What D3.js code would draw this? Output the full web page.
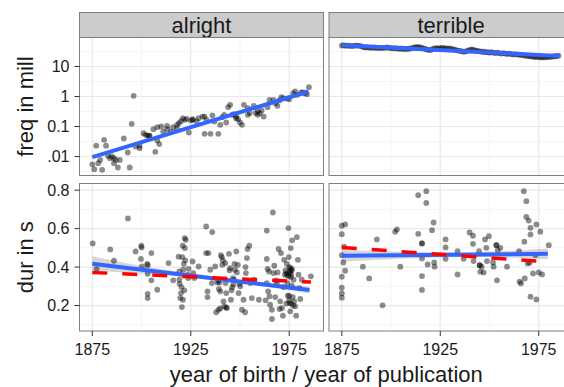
<!DOCTYPE html>
<html><head><meta charset="utf-8">
<script src="https://cdn.jsdelivr.net/npm/d3@7"></script>
<style>
body{margin:0;background:#fff}
svg{display:block}
text{font-family:"Liberation Sans", Arial, Helvetica, sans-serif; fill:#1a1a1a}
</style>
</head><body>
<svg id="chart" width="564" height="387"></svg>
<script>
// ---------------- data ----------------
const facets = ["alright", "terrible"];
const rowTitles = ["freq in mill", "dur in s"];
const xTitle = "year of birth / year of publication";
const xTicks = [1875, 1925, 1975];
const xTickLabels = ["1875", "1925", "1975"];
const xMinor = [1900, 1950];
const freqTicks = [10, 1, 0.1, 0.01];
const freqTickLabels = ["10", "1", "0.1", ".01"];
const freqMinor = [31.62, 3.162, 0.3162, 0.03162, 0.003162];
const durTicks = [0.2, 0.4, 0.6, 0.8];
const durTickLabels = ["0.2", "0.4", "0.6", "0.8"];
const durMinor = [0.1, 0.3, 0.5, 0.7];

const alrightFreq = [
[1875,0.0055],[1876,0.0038],[1877,0.023],[1878,0.006],[1879,0.0077],[1880,0.0036],[1881,0.036],
[1882,0.023],[1883,0.0105],[1884,0.0088],[1885,0.01],[1886,0.0088],[1886,0.006],[1887,0.0077],
[1888,0.0043],[1889,0.0077],[1891,0.04],[1893,0.0136],[1894,0.0043],[1895,0.123],[1896,1.05],
[1897,0.0215],[1899,0.019],[1899,0.023],[1901,0.06],[1902,0.053],[1903,0.05],[1904,0.05],[1904,0.049],
[1906,0.081],[1907,0.0143],[1908,0.034],[1908,0.095],[1909,0.026],[1910,0.1],[1911,0.068],[1913,0.081],
[1913,0.105],[1915,0.068],[1916,0.095],[1918,0.114],[1918,0.088],[1919,0.13],[1920,0.15],[1921,0.19],
[1922,0.167],[1923,0.18],[1924,0.063],[1925,0.158],[1926,0.167],[1926,0.175],[1928,0.147],[1929,0.19],
[1931,0.215],[1932,0.057],[1932,0.215],[1933,0.167],[1935,0.057],[1936,0.233],[1937,0.147],[1939,0.057],
[1940,0.114],[1941,0.205],[1942,0.245],[1943,0.136],[1944,0.44],[1945,0.53],[1946,0.245],[1947,0.258],
[1948,0.215],[1948,0.19],[1949,0.175],[1950,0.136],[1951,0.114],[1952,0.53],[1954,0.41],[1954,0.245],
[1955,0.28],[1957,0.49],[1958,0.28],[1959,0.32],[1959,0.245],[1960,0.28],[1961,0.34],[1962,0.215],
[1964,0.44],[1965,0.77],[1967,0.77],[1968,0.6],[1969,0.49],[1970,0.74],[1971,0.95],[1972,0.88],
[1974,0.86],[1975,0.81],[1977,1.29],[1978,1.47],[1979,1.14],[1981,1.36],[1982,1.36],[1983,1.29],
[1984,1.2],[1985,2.05]
];

const terribleFreqYears = d3.range(1875, 1986);
const terribleFreqValues = [
50,51,49,50,49,48,49,50,50,49,
47,44,43,44,42,43,42,43,41,42,
41,42,42,43,42,41,40,41,40,39,
40,38,39,38,39,40,42,43,45,44,
43,41,39,37,36,35,38,40,41,40,
41,42,41,40,39,40,38,37,35,34,
33,32,31,32,34,36,37,36,34,33,
32,31,31,30,30,29,30,29,28,29,
28,27,28,27,26,27,26,25,26,25,
25,24,24,23,23,22,22,21,21,20.5,
21,20,20.5,20,21,20.5,21,21.5,22,22,
23
];

const alrightDur = [
[1875.2,0.523],[1877.2,0.391],[1884.1,0.492],[1886,0.433],[1893.1,0.653],[1897,0.481],[1899.7,0.442],
[1899.9,0.511],[1900,0.502],[1900.2,0.403],[1902.9,0.416],[1903.1,0.41],[1903.1,0.365],[1903.1,0.261],
[1903.1,0.239],[1905,0.473],[1905,0.331],[1908,0.282],[1913.7,0.421],[1916.1,0.331],[1918.8,0.454],
[1919.2,0.377],[1919.2,0.334],[1919.3,0.313],[1919.7,0.239],[1920,0.265],[1920.3,0.296],[1920.5,0.192],
[1920.7,0.452],[1920.9,0.511],[1921,0.23],[1921.2,0.386],[1921.5,0.417],[1921.7,0.279],[1921.9,0.551],
[1922,0.499],[1922.2,0.435],[1922.5,0.542],[1923.4,0.36],[1923.7,0.343],[1923.9,0.391],[1925.9,0.429],
[1926.3,0.369],[1926.8,0.343],[1929,0.403],
[1932.8,0.611],[1935.9,0.582],[1932.8,0.473],[1934,0.473],[1933.5,0.274],[1933.5,0.244],[1934.9,0.386],
[1935.7,0.317],[1937.4,0.403],[1937.9,0.165],[1939.1,0.178],[1939.3,0.286],[1939.6,0.32],[1940,0.274],
[1940.3,0.462],[1940.8,0.452],[1941,0.412],[1941.3,0.435],[1941.6,0.222],[1942,0.196],[1942.5,0.421],
[1942.7,0.317],[1943,0.265],[1943.3,0.187],[1944.4,0.469],[1944.7,0.383],[1945,0.395],[1945.4,0.23],
[1945.7,0.279],[1946,0.296],[1946.4,0.343],[1946.7,0.31],[1947.2,0.417],[1947.4,0.386],[1948.1,0.481],
[1948.4,0.372],[1948.9,0.412],[1949.3,0.265],[1949.8,0.313],[1950.1,0.3],[1951,0.178],[1951.8,0.23],
[1952.6,0.165],[1952.8,0.4],[1953,0.369],[1953.5,0.447],[1953.8,0.494],[1954.7,0.511],[1955.2,0.317],
[1956,0.239],[1957.2,0.334],[1959.6,0.23],[1963,0.227],[1963.6,0.59],[1963.6,0.442],[1963.6,0.317],
[1964,0.39],[1964.3,0.274],[1964.7,0.377],[1965,0.248],[1965.3,0.204],[1966.2,0.178],[1966.2,0.13],
[1966.7,0.684],[1967,0.369],[1967.4,0.407],[1967.9,0.244],[1968.4,0.331],[1968.7,0.317],[1969.1,0.372],
[1969.6,0.494],[1970.1,0.182],[1970.4,0.222],[1970.8,0.473],[1971.3,0.187],[1971.8,0.147],[1972.1,0.296],
[1972.4,0.438],[1972.8,0.36],[1973.1,0.383],[1973.5,0.369],[1973.8,0.417],[1974.1,0.317],[1974.3,0.251],
[1974.6,0.603],[1974.6,0.352],[1974.8,0.452],[1975.1,0.213],[1975.5,0.395],[1975.5,0.17],[1975.8,0.499],
[1975.8,0.348],[1976.2,0.383],[1976.3,0.303],[1976.5,0.539],[1976.8,0.244],[1977.2,0.334],[1977.5,0.222],
[1978,0.196],[1978.5,0.147],[1978.9,0.556],[1979.4,0.438],[1979.7,0.36],[1980.2,0.291],[1980.6,0.234],
[1981.4,0.334],[1986,0.352],
[1938.5,0.32],[1940,0.185],[1943,0.19],[1975.5,0.38],[1975,0.25],[1976,0.21],[1977,0.2],[1976,0.36],
[1975,0.4],[1974,0.36],[1939,0.33],[1947,0.335],[1973.5,0.21],[1975.2,0.37],[1976.4,0.39],[1974.9,0.225]
];

const terribleDur = [
[1875,0.615],[1876.7,0.622],[1875,0.571],[1875,0.462],[1875.8,0.424],[1876.7,0.381],[1875,0.35],
[1875,0.293],[1875,0.263],[1875,0.241],[1876.2,0.506],[1885.7,0.402],[1888.9,0.341],[1892.8,0.544],
[1895.7,0.201],[1902.1,0.584],[1903,0.596],[1904.7,0.402],[1913.8,0.774],[1917.9,0.795],[1917.9,0.734],
[1913.8,0.573],[1915.7,0.523],[1915.7,0.523],[1915.7,0.445],[1915.7,0.353],[1915.7,0.281],[1918.6,0.414],
[1920.8,0.592],[1921.6,0.632],[1921.9,0.424],[1922.1,0.402],[1927.7,0.544],[1927.7,0.502],[1927.7,0.443],
[1933.8,0.483],[1933.8,0.362],[1936.9,0.443],[1939.9,0.58],[1941.6,0.563],[1941.6,0.521],[1941.9,0.431],
[1944.7,0.483],[1945,0.41],[1945,0.41],[1945.3,0.376],[1946,0.402],[1947,0.372],[1947.7,0.544],[1948.4,0.5],
[1948.7,0.431],[1949.7,0.561],[1951.8,0.424],[1952.1,0.402],[1953.5,0.514],[1953.5,0.514],[1953.8,0.331],
[1954.2,0.488],[1955.5,0.5],[1958.9,0.402],[1965,0.483],[1965.3,0.324],[1966,0.315],[1967.4,0.795],
[1967.7,0.532],[1968.7,0.743],[1968.7,0.661],[1969.9,0.642],[1970.8,0.604],[1970.8,0.57],[1970.8,0.246],
[1972.1,0.367],[1970.4,0.424],[1969.4,0.419],[1973.8,0.232],[1973.8,0.622],[1973.3,0.462],[1975,0.372],
[1975.8,0.584],[1976.7,0.362],[1980.1,0.514],[1967.9,0.341]
];

// fitted lines and bands
const fitAlrightFreq = [[1875, 0.0095], [1984.8, 1.47]];
const fitTerribleFreq = [[1875, 51], [1985.7, 22.5]];
const fitAlrightDur = [[1875, 0.417], [1985.3, 0.281]];
const fitTerribleDur = [[1875, 0.459], [1979.6, 0.469]];
const altAlrightDur = [[1875, 0.372], [1986, 0.322]];
const altTerribleDur = [[1875, 0.502], [1974, 0.431]];
const bandAlrightDur = [[1875,0.381,0.456],[1900,0.366,0.406],[1930,0.338,0.360],[1960,0.301,0.323],[1985.3,0.263,0.299]];
const bandTerribleDur = [[1875,0.428,0.490],[1900,0.441,0.481],[1930,0.451,0.477],[1955,0.451,0.483],[1979.6,0.441,0.497]];

// ---------------- layout ----------------
const svg = d3.select("#chart");
const colX = [79.5, 329];
const panelW = 244;
const stripY = 12.5, stripH = 25;
const rowY = [37.5, 183.5];
const rowH = [138, 147.5];

const x = d3.scaleLinear().domain([1868.5, 1992.4]).range([0, panelW]);
const yFreq = d3.scaleLog().domain([0.00233, 92.6]).range([rowH[0], 0]);
const yDur = d3.scaleLinear().domain([0.0675, 0.8348]).range([rowH[1], 0]);
const yScales = [yFreq, yDur];

const panelData = {
  "0-0": {pts: alrightFreq, fit: fitAlrightFreq},
  "1-0": {pts: terribleFreqYears.map((y, i) => [y, terribleFreqValues[i]]), fit: fitTerribleFreq},
  "0-1": {pts: alrightDur, fit: fitAlrightDur, alt: altAlrightDur, band: bandAlrightDur},
  "1-1": {pts: terribleDur, fit: fitTerribleDur, alt: altTerribleDur, band: bandTerribleDur}
};
const majorY = [freqTicks, durTicks];
const minorY = [freqMinor, durMinor];

// strips
facets.forEach((f, c) => {
  svg.append("rect").attr("x", colX[c]).attr("y", stripY).attr("width", panelW).attr("height", stripH)
    .attr("fill", "#CCCCCC").attr("stroke", "#7F7F7F").attr("stroke-width", 1);
  svg.append("text").attr("x", colX[c] + panelW / 2).attr("y", stripY + 20.5)
    .attr("text-anchor", "middle").attr("font-size", 22).text(f);
});

for (let r = 0; r < 2; r++) {
  for (let c = 0; c < 2; c++) {
    const y = yScales[r];
    const g = svg.append("g").attr("transform", `translate(${colX[c]},${rowY[r]})`);
    g.append("rect").attr("width", panelW).attr("height", rowH[r]).attr("fill", "#fff");
    // minor grid
    g.selectAll(".mx").data(xMinor).join("line")
      .attr("x1", d => x(d)).attr("x2", d => x(d)).attr("y1", 0).attr("y2", rowH[r])
      .attr("stroke", "#F5F5F5").attr("stroke-width", 1);
    g.selectAll(".my").data(minorY[r]).join("line")
      .attr("y1", d => y(d)).attr("y2", d => y(d)).attr("x1", 0).attr("x2", panelW)
      .attr("stroke", "#F5F5F5").attr("stroke-width", 1);
    // major grid
    g.selectAll(".Mx").data(xTicks).join("line")
      .attr("x1", d => x(d)).attr("x2", d => x(d)).attr("y1", 0).attr("y2", rowH[r])
      .attr("stroke", "#E8E8E8").attr("stroke-width", 1.2);
    g.selectAll(".My").data(majorY[r]).join("line")
      .attr("y1", d => y(d)).attr("y2", d => y(d)).attr("x1", 0).attr("x2", panelW)
      .attr("stroke", "#E8E8E8").attr("stroke-width", 1.2);

    const pd = panelData[c + "-" + r];
    if (pd.band) {
      g.append("path").datum(pd.band)
        .attr("d", d3.area().curve(d3.curveNatural).x(d => x(d[0])).y0(d => y(d[1])).y1(d => y(d[2])))
        .attr("fill", "#999999").attr("fill-opacity", 0.4);
    }
    g.selectAll(".pt").data(pd.pts).join("circle")
      .attr("cx", d => x(d[0])).attr("cy", d => y(d[1])).attr("r", 2.9)
      .attr("fill", "#000").attr("fill-opacity", 0.45);
    const line = d3.line().x(d => x(d[0])).y(d => y(d[1]));
    g.append("path").datum(pd.fit).attr("d", line)
      .attr("fill", "none").attr("stroke", "#3366FF").attr("stroke-width", 4);
    if (pd.alt) {
      g.append("path").datum(pd.alt).attr("d", line)
        .attr("fill", "none").attr("stroke", "#FF0000").attr("stroke-width", 3.5)
        .attr("stroke-dasharray", "15,15");
    }
    g.append("rect").attr("width", panelW).attr("height", rowH[r])
      .attr("fill", "none").attr("stroke", "#7F7F7F").attr("stroke-width", 1);

    // y axis (left column only)
    if (c === 0) {
      const labels = r === 0 ? freqTickLabels : durTickLabels;
      const ticks = majorY[r];
      ticks.forEach((t, i) => {
        g.append("line").attr("x1", -5).attr("x2", 0).attr("y1", y(t)).attr("y2", y(t))
          .attr("stroke", "#333").attr("stroke-width", 1);
        g.append("text").attr("x", -10).attr("y", y(t)).attr("dy", "0.36em")
          .attr("text-anchor", "end").attr("font-size", 16).text(labels[i]);
      });
    }
    // x axis (bottom row only)
    if (r === 1) {
      xTicks.forEach((t, i) => {
        g.append("line").attr("x1", x(t)).attr("x2", x(t)).attr("y1", rowH[r]).attr("y2", rowH[r] + 5)
          .attr("stroke", "#333").attr("stroke-width", 1);
        g.append("text").attr("x", x(t)).attr("y", rowH[r] + 24)
          .attr("text-anchor", "middle").attr("font-size", 16).text(xTickLabels[i]);
      });
    }
  }
}

// axis titles
rowTitles.forEach((t, r) => {
  const cy = rowY[r] + rowH[r] / 2;
  svg.append("text").attr("transform", `translate(33,${cy}) rotate(-90)`)
    .attr("text-anchor", "middle").attr("font-size", 22).text(t);
});
svg.append("text").attr("x", (colX[0] + colX[1] + panelW) / 2).attr("y", 382)
  .attr("text-anchor", "middle").attr("font-size", 22).text(xTitle);
</script>
</body></html>
